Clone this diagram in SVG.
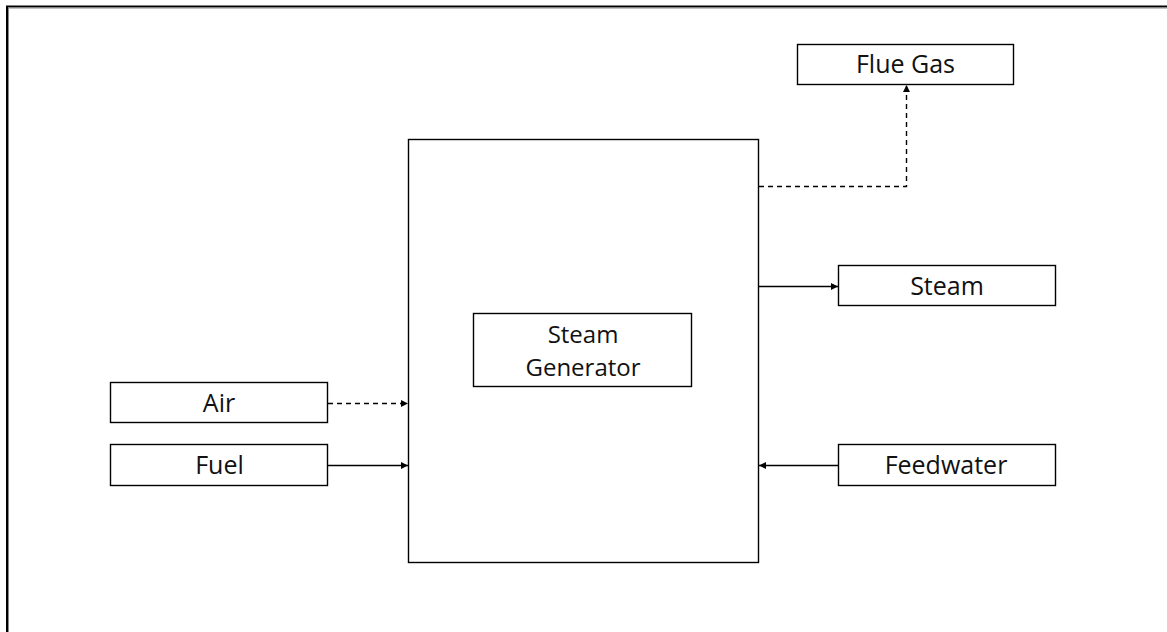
<svg xmlns="http://www.w3.org/2000/svg" width="1167" height="632" viewBox="0 0 1167 632">
  <style>
    .box { fill: #ffffff; stroke: #000000; stroke-width: 1.4; }
    .lbl { font-family: "Open Sans", "Noto Sans", sans-serif; font-size: 25px; fill: #111111; text-anchor: middle; }
    .lbl2 { font-size: 24px; }
    .wire { fill: none; stroke: #000000; stroke-width: 1.4; }
    .dash { stroke-dasharray: 5 4; }
  </style>
  <defs>
    <marker id="arrow" viewBox="0 0 10 10" refX="10" refY="5" markerWidth="7" markerHeight="7" markerUnits="userSpaceOnUse" orient="auto">
      <path d="M0,0 L10,5 L0,10 z" fill="#000000"/>
    </marker>
  </defs>

  <rect width="1167" height="632" fill="#ffffff"/>
  <!-- page frame (top and left edges) -->
  <path d="M7,632 L7,6.5 L1167,6.5" fill="none" stroke="#000000" stroke-width="2"/>
  <path d="M8.5,632 L8.5,8 L1167,8" fill="none" stroke="#888888" stroke-width="1"/>

  <g id="steam-generator-unit">
    <rect class="box" x="408.5" y="139.5" width="350" height="423"/>
  </g>
  <g id="steam-generator-label">
    <rect class="box" x="473.5" y="313.5" width="218" height="73"/>
    <text class="lbl lbl2" x="583" y="343">Steam</text>
    <text class="lbl lbl2" x="583" y="376">Generator</text>
  </g>
  <g id="flue-gas">
    <rect class="box" x="797.5" y="44.5" width="216" height="40"/>
    <text class="lbl" x="905.5" y="73">Flue Gas</text>
  </g>
  <g id="steam">
    <rect class="box" x="838.5" y="265.5" width="217" height="40"/>
    <text class="lbl" x="947" y="295">Steam</text>
  </g>
  <g id="air">
    <rect class="box" x="110.5" y="382.5" width="217" height="40"/>
    <text class="lbl" x="219" y="412">Air</text>
  </g>
  <g id="fuel">
    <rect class="box" x="110.5" y="444.5" width="217" height="41"/>
    <text class="lbl" x="219.5" y="473.5">Fuel</text>
  </g>
  <g id="feedwater">
    <rect class="box" x="838.5" y="444.5" width="217" height="41"/>
    <text class="lbl" x="946" y="474">Feedwater</text>
  </g>

  <g id="connectors">
    <path class="wire dash" d="M759,186.5 L906.5,186.5 L906.5,85" marker-end="url(#arrow)"/>
    <path class="wire" d="M759,286.5 L838,286.5" marker-end="url(#arrow)"/>
    <path class="wire dash" d="M328,403.5 L408,403.5" marker-end="url(#arrow)"/>
    <path class="wire" d="M328,465.5 L408,465.5" marker-end="url(#arrow)"/>
    <path class="wire" d="M838,465.5 L759,465.5" marker-end="url(#arrow)"/>
  </g>
</svg>
